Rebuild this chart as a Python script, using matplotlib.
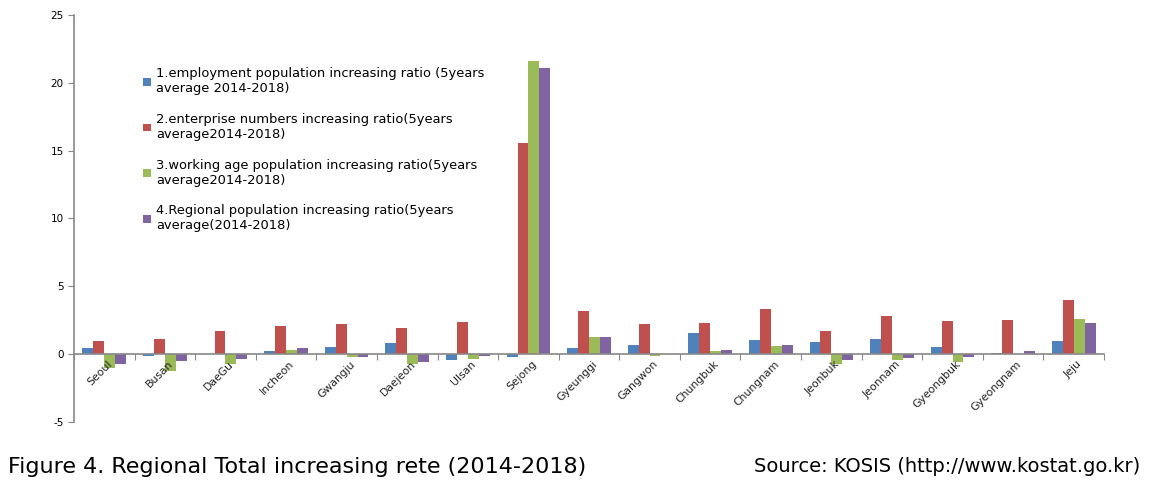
import numpy as np
import matplotlib.pyplot as plt
plt.rcParams['axes.unicode_minus'] = False

regions = ['Seoul', 'Busan', 'DaeGu', 'Incheon', 'Gwangju', 'Daejeon', 'Ulsan', 'Sejong',
           'Gyeunggi', 'Gangwon', 'Chungbuk', 'Chungnam', 'Jeonbuk', 'Jeonnam',
           'Gyeongbuk', 'Gyeongnam', 'Jeju']
employment = [0.45, -0.1, 0.0, 0.2, 0.55, 0.85, -0.45, -0.2, 0.45, 0.7, 1.55, 1.05, 0.9, 1.15, 0.5, 0.1, 1.0]
enterprise = [1.0, 1.15, 1.68, 2.05, 2.2, 1.95, 2.4, 15.6, 3.2, 2.2, 2.3, 3.35, 1.7, 2.85, 2.45, 2.5, 4.0]
working_age = [-1.05, -1.25, -0.75, 0.3, -0.2, -0.7, -0.35, 21.6, 1.3, -0.1, 0.2, 0.6, -0.7, -0.45, -0.6, 0.0, 2.6]
regional_pop = [-0.75, -0.5, -0.35, 0.45, -0.2, -0.6, -0.1, 21.1, 1.3, 0.0, 0.3, 0.7, -0.45, -0.3, -0.2, 0.2, 2.3]
labels = ['1.employment population increasing ratio (5years\naverage 2014-2018)',
          '2.enterprise numbers increasing ratio(5years\naverage2014-2018)',
          '3.working age population increasing ratio(5years\naverage2014-2018)',
          '4.Regional population increasing ratio(5years\naverage(2014-2018)']
colors = ['#4F81BD', '#C0504D', '#9BBB59', '#8064A2']

fig = plt.figure(figsize=(11.57, 4.87), dpi=100)
ax = fig.add_axes([74/1157, 1-422/487, (1104-74)/1157, (422-15)/487])

x = np.arange(len(regions))
w = 0.18
series = [employment, enterprise, working_age, regional_pop]
for i, (vals, c, lab) in enumerate(zip(series, colors, labels)):
    ax.bar(x + (i-1.5)*w, vals, width=w, color=c, label=lab, zorder=2)

ax.set_xlim(-0.5, len(regions)-0.5)
ax.set_ylim(-5, 25)
ax.set_yticks(range(-5, 26, 5))
ax.tick_params(axis='y', labelsize=7.5, length=4, color='#888888')

# x axis drawn at zero
ax.spines['top'].set_visible(False)
ax.spines['right'].set_visible(False)
ax.spines['bottom'].set_position(('data', 0))
for s in ['left', 'bottom']:
    ax.spines[s].set_color('#888888')
    ax.spines[s].set_linewidth(1.2)
ax.set_xticks(np.arange(len(regions)+1) - 0.5)
ax.set_xticklabels([])
ax.tick_params(axis='x', length=4, color='#888888', direction='out')
for xi, name in zip(x, regions):
    ax.text(xi + 0.05, -0.35, name, rotation=45, ha='right', va='top',
            rotation_mode='anchor', fontsize=7.8, color='#222222')

ax.legend(loc='upper left', bbox_to_anchor=(0.056, 0.9), frameon=False,
          fontsize=9.4, handlelength=0.55, handleheight=0.55, handletextpad=0.45,
          labelspacing=1.35)

fig.text(8/1157, 1-467/487, 'Figure 4. Regional Total increasing rete (2014-2018)',
         fontsize=16, va='center', ha='left')
fig.text(1140/1157, 1-467/487, 'Source: KOSIS (http://www.kostat.go.kr)',
         fontsize=14, va='center', ha='right')

fig.savefig('out.png', dpi=100)
